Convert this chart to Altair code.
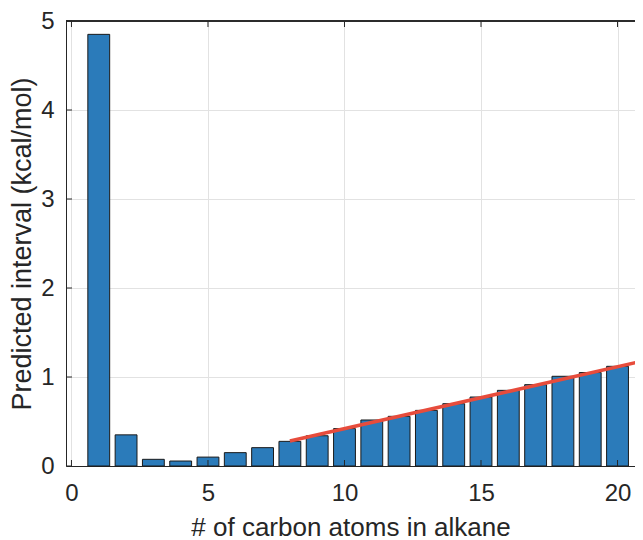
import altair as alt
import pandas as pd

carbons = list(range(1, 21))
intervals = [4.85, 0.35, 0.075, 0.056, 0.10, 0.15, 0.206, 0.277, 0.34, 0.42,
             0.517, 0.558, 0.625, 0.70, 0.775, 0.85, 0.914, 1.008, 1.05, 1.12]
fit_x = [8, 21]
fit_y = [0.28, 1.185]
x_ticks = [0, 5, 10, 15, 20]
y_ticks = [0, 1, 2, 3, 4, 5]

W, H = 569, 445
FONT = "Liberation Sans"
TXT = "#262626"

bars_df = pd.DataFrame({"n": carbons, "v": intervals})
fit_df = pd.DataFrame({"n": fit_x, "v": fit_y})
xt_df = pd.DataFrame({"n": x_ticks})
yt_df = pd.DataFrame({"v": y_ticks})

xscale = alt.Scale(domain=[-0.2, 20.64], nice=False, zero=False)
yscale = alt.Scale(domain=[0, 5], nice=False)
xaxis = alt.Axis(values=x_ticks, grid=True, ticks=False, labelPadding=15,
                 titlePadding=9, format="d", titleFontSize=26)
yaxis = alt.Axis(values=y_ticks, grid=True, ticks=False, labelPadding=12,
                 titlePadding=4, format="d")
XT = "# of carbon atoms in alkane"
YT = "Predicted interval (kcal/mol)"

bars = alt.Chart(bars_df).transform_calculate(
    x0="datum.n - 0.4", x1="datum.n + 0.4"
).mark_bar(color="#2b7bba", stroke="#1a1a1a", strokeWidth=1).encode(
    x=alt.X("x0:Q", scale=xscale, axis=xaxis, title=XT),
    x2="x1:Q",
    y=alt.Y("v:Q", scale=yscale, axis=yaxis, title=YT),
    y2=alt.datum(0),
)

fit = alt.Chart(fit_df).mark_line(color="#e74c3c", strokeWidth=3.5, clip=True).encode(
    x=alt.X("n:Q", scale=xscale, axis=xaxis, title=XT),
    y=alt.Y("v:Q", scale=yscale, axis=yaxis, title=YT),
)

xt_bottom = alt.Chart(xt_df).mark_rule(color=TXT, strokeWidth=1).encode(
    x=alt.X("n:Q", scale=xscale, axis=xaxis, title=XT),
    y=alt.value(H), y2=alt.value(H - 6),
)
xt_top = alt.Chart(xt_df).mark_rule(color=TXT, strokeWidth=1).encode(
    x=alt.X("n:Q", scale=xscale, axis=xaxis, title=XT),
    y=alt.value(0), y2=alt.value(6),
)
yt_left = alt.Chart(yt_df).mark_rule(color=TXT, strokeWidth=1).encode(
    y=alt.Y("v:Q", scale=yscale, axis=yaxis, title=YT),
    x=alt.value(0), x2=alt.value(6),
)
top_border = alt.Chart(xt_df).mark_rule(color=TXT, strokeWidth=1).encode(
    x=alt.value(0), x2=alt.value(W), y=alt.value(0),
)

chart = alt.layer(bars, fit, xt_bottom, xt_top, yt_left, top_border).properties(
    width=W, height=H,
    autosize=alt.AutoSizeParams(type="none"),
    padding={"left": 58, "top": 13, "right": 0, "bottom": 74},
).configure_view(stroke=None).configure_axis(
    domainColor=TXT, domainWidth=1,
    gridColor="#e2e2e2", gridWidth=1,
    labelFont=FONT, labelFontSize=24, labelColor=TXT,
    titleFont=FONT, titleFontSize=27, titleColor=TXT, titleFontWeight="normal",
)

chart.save("out.html", embed_options={"renderer": "svg", "actions": False})
